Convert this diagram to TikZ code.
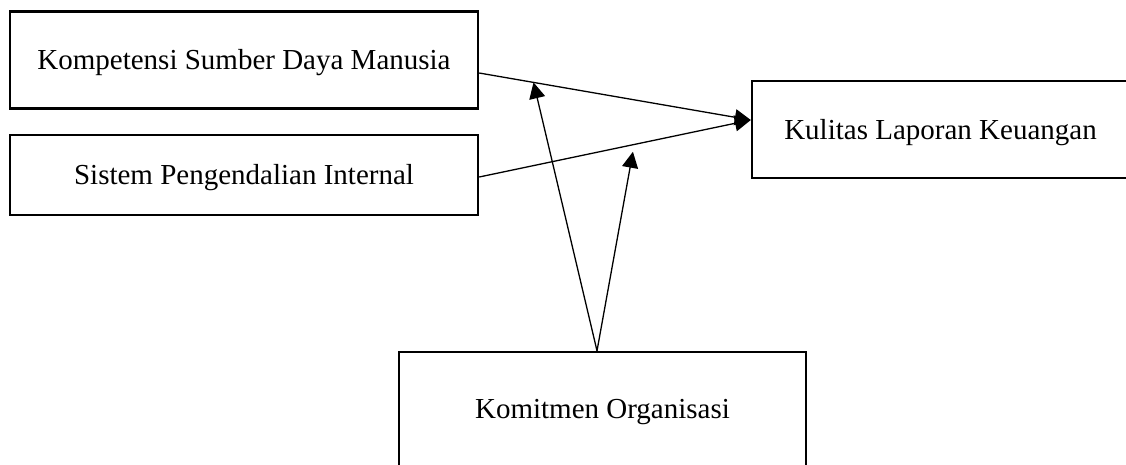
\documentclass[tikz,border=0pt]{standalone}
\usepackage{fontspec}
\setmainfont{Liberation Serif}
\usetikzlibrary{arrows.meta}
\tikzset{
  box/.style={draw, line width=2.4pt, minimum width=468pt, minimum height=97pt,
    inner sep=0pt, text height=19pt, text depth=0pt, font=\fontsize{29}{34}\selectfont},
  link/.style={line width=1.3pt, -{Triangle[length=16pt,width=16pt]}}
}
\begin{document}
\begin{tikzpicture}[x=1pt,y=-1pt]
		% Frame
		\clip (0,0) rectangle (1126,464);
		
		% Draw boxes
		\node[box] (KSDM) at (244,60) {Kompetensi Sumber Daya Manusia};
		\node[box, minimum height=80pt] (SPI) at (244,175) {Sistem Pengendalian Internal};
		\node[box, minimum width=377pt] (KLK) at (940.5,129.5) {Kulitas Laporan Keuangan};
		\node[box, minimum width=407pt, minimum height=114pt] (KO) at (602.5,409) {Komitmen Organisasi};
		
		% Define points
		\coordinate (T) at ([yshift=9.5pt]KLK.west);
		\coordinate (A) at ([yshift=-13pt]KSDM.east);
		\coordinate (B) at ([yshift=-2pt]SPI.east);
		\coordinate (C) at ([xshift=-5.5pt]KO.north);
		\path (A) -- (T) coordinate[pos=0.2] (P);
		\path (B) -- (T) coordinate[pos=0.566] (Q0);
		\coordinate (Q) at ([yshift=-7pt]Q0);
		
		% Draw arrows
		\draw[link] (A) -- (T);
		\draw[link] (B) -- (T);
		\draw[link] (C) -- (P);
		\draw[link] (C) -- (Q);
		
	\end{tikzpicture}
\end{document}
